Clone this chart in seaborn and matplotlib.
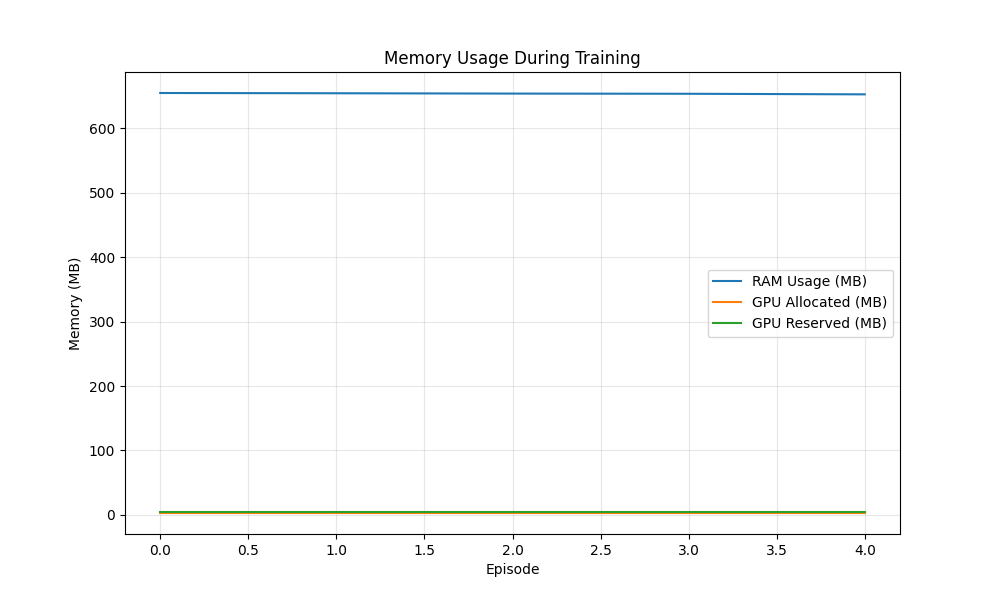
import matplotlib
matplotlib.use("Agg")
import matplotlib.pyplot as plt
import pandas as pd
import seaborn as sns

episodes = [0, 1, 2, 3, 4]
ram_mb = [655.0, 654.6, 654.1, 653.8, 652.9]
gpu_allocated_mb = [2.8, 2.8, 2.8, 2.8, 2.8]
gpu_reserved_mb = [4.2, 4.2, 4.2, 4.2, 4.2]

df = pd.DataFrame({
    "episode": episodes,
    "ram": ram_mb,
    "gpu_alloc": gpu_allocated_mb,
    "gpu_res": gpu_reserved_mb,
})

fig, ax = plt.subplots(figsize=(10, 6), dpi=100)
sns.lineplot(data=df, x="episode", y="ram", label="RAM Usage (MB)", ax=ax)
sns.lineplot(data=df, x="episode", y="gpu_alloc", label="GPU Allocated (MB)", ax=ax)
sns.lineplot(data=df, x="episode", y="gpu_res", label="GPU Reserved (MB)", ax=ax)

ax.set_xlabel("Episode")
ax.set_ylabel("Memory (MB)")
ax.set_title("Memory Usage During Training")
ax.legend()
ax.grid(True, alpha=0.3)

plt.savefig("out.png")
